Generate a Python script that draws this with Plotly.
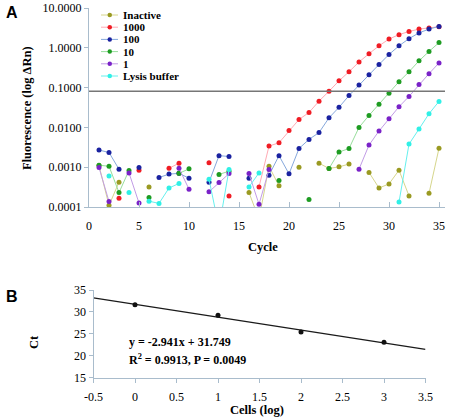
import plotly.graph_objects as go

W, H = 452, 419

# ---------------- Panel A data ----------------
cycles = list(range(1, 36))
series_names = ["Inactive", "1000", "100", "10", "1", "Lysis buffer"]

inactive = [0.0011, 0.00011, 0.00042, None, None, 0.00032, None, None, 0.0007, None,
            None, None, None, None, None, 0.00023, 0.00005, 0.00105, 0.00034, None,
            0.001, None, 0.00126, 0.00093, 0.00102, 0.0012, None, 0.00074, 0.0003, 0.00038,
            0.00084, 0.00019, None, 0.00022, 0.003]
cells_1000 = [None, None, 0.000166, None, 0.00084, None, None, 0.00094, 0.00126, None,
              None, 0.0013, None, 0.00019, None, None, 0.00032, 0.0034, 0.0041, 0.0083,
              0.0158, 0.0237, 0.0457, 0.081, 0.148, 0.25, 0.44, 0.71, 1.12, 1.66,
              2.14, 2.57, 2.95, 3.16, 3.39]
cells_100 = [0.0027, 0.00234, 0.00089, None, 0.00098, None, 0.00055, 0.00067, 0.0007, 0.00053,
             None, 0.00042, 0.00195, 0.00186, None, 0.00053, None, 0.00063, 0.00195, 0.00068,
             0.00295, 0.005, 0.0074, 0.0174, 0.032, 0.063, 0.117, 0.21, 0.38, 0.68,
             1.12, 1.7, 2.37, 2.95, 3.45]
cells_10 = [0.00112, 0.00106, 0.00023, 0.00083, None, 0.000174, None, None, 0.0007, 0.00091,
            None, None, 0.00066, 0.00079, None, None, None, None, 0.00046, None,
            None, 0.000155, None, 0.00093, 0.0024, 0.00295, 0.01, 0.02, 0.038, 0.072,
            0.141, 0.25, 0.47, 0.81, 1.35]
cells_1 = [0.00098, 0.000138, None, 0.00072, 0.000126, None, None, None, 0.00094, 0.00028,
           None, 0.00024, 0.00041, 0.00069, None, 0.00069, 0.000117, 0.00087, None, None,
           None, None, None, None, None, None, 0.00089, 0.0036, 0.0081, 0.0166,
           0.033, 0.06, 0.119, 0.224, 0.417]
lysis_buffer = [None, 0.0006, None, 0.00023, None, 0.00014, 0.000123, 0.0003, 0.00039, None,
                None, 0.0005, 0.00003, 0.00087, None, 0.00032, 0.00072, None, None, None,
                None, None, None, None, None, None, None, None, None, None,
                0.000133, 0.0038, 0.0091, 0.022, 0.045]
series_values = [inactive, cells_1000, cells_100, cells_10, cells_1, lysis_buffer]

threshold = 0.081
a_x_range = [0, 35.6]
a_x_ticks = [0, 5, 10, 15, 20, 25, 30, 35]
a_y_tickvals = [0.0001, 0.001, 0.01, 0.1, 1, 10]
a_y_ticktext = ["0.0001", "0.0010", "0.0100", "0.1000", "1.0000", "10.0000"]

# ---------------- Panel B data ----------------
cells_log = [0, 1, 2, 3]
ct_values = [31.61, 29.22, 25.45, 23.06]
slope, intercept = -2.941, 31.749
fit_x = [-0.5, 3.5]
b_x_ticks = [-0.5, 0, 0.5, 1, 1.5, 2, 2.5, 3, 3.5]
b_x_ticktext = ["-0.5", "0", "0.5", "1", "1.5", "2", "2.5", "3", "3.5"]
b_y_ticks = [15, 20, 25, 30, 35]

# ---------------- styles ----------------
marker_colors = ["#9a9a22", "#f01c24", "#1a22a0", "#1e9c22", "#7a22c8", "#30f0e6"]
line_colors = ["#d6d68c", "#ffaab4", "#86a8dc", "#98de9c", "#c29ce6", "#66f0ee"]
axis_color = "#a9bccc"
serif = "Liberation Serif, Times New Roman, serif"
sans = "Liberation Sans, Arial, sans-serif"


def pxx(p):
    return p / W


def pxy(p):
    return 1 - p / H


fig = go.Figure()

for name, vals, mc, lc in zip(series_names, series_values, marker_colors, line_colors):
    fig.add_trace(go.Scatter(
        x=cycles, y=vals, name=name, mode="lines+markers",
        line=dict(color=lc, width=1), marker=dict(color=mc, size=5),
        connectgaps=False, xaxis="x", yaxis="y", showlegend=False))

fig.add_trace(go.Scatter(
    x=a_x_range, y=[threshold, threshold], mode="lines",
    line=dict(color="#767676", width=1.6), xaxis="x", yaxis="y", showlegend=False))

fit_y = [slope * v + intercept for v in fit_x]
fig.add_trace(go.Scatter(
    x=fit_x, y=fit_y, mode="lines", line=dict(color="#1a1a1a", width=1.2),
    xaxis="x2", yaxis="y2", showlegend=False))
fig.add_trace(go.Scatter(
    x=cells_log, y=ct_values, mode="markers", marker=dict(color="#111111", size=5),
    xaxis="x2", yaxis="y2", showlegend=False))

tickfont = dict(family=serif, size=12, color="black")
common = dict(showgrid=False, zeroline=False, showline=True, linecolor=axis_color,
              linewidth=1, tickcolor=axis_color, tickfont=tickfont, automargin=False)

fig.update_layout(
    template="none",
    width=W, height=H, margin=dict(l=0, r=0, t=0, b=0, pad=0),
    font=dict(family=serif, size=12, color="black"),
    paper_bgcolor="white", plot_bgcolor="white",
    hovermode=False,
    xaxis=dict(domain=[pxx(89), pxx(445)], range=a_x_range, tickvals=a_x_ticks,
               ticks="inside", ticklen=5, anchor="y", ticklabelstandoff=8, **common),
    yaxis=dict(domain=[pxy(207), pxy(8)], type="log", range=[-4, 1],
               tickvals=a_y_tickvals, ticktext=a_y_ticktext,
               ticks="outside", ticklen=4, anchor="x", **common),
    xaxis2=dict(domain=[pxx(93.5), pxx(425.5)], range=[-0.5, 3.5], tickvals=b_x_ticks,
                ticktext=b_x_ticktext, ticks="outside", ticklen=4, anchor="y2",
                ticklabelstandoff=4, **common),
    yaxis2=dict(domain=[pxy(377.7), pxy(290)], range=[15, 35], tickvals=b_y_ticks,
                ticks="outside", ticklen=4, anchor="x2", **common),
)

annotations = []
shapes = []


def text(s, x, y, size=12, family=serif, bold=True, xanchor="center", angle=0):
    annotations.append(dict(
        text=f"<b>{s}</b>" if bold else s, x=pxx(x), y=pxy(y), xref="paper", yref="paper",
        showarrow=False, xanchor=xanchor, yanchor="middle", textangle=angle,
        font=dict(family=family, size=size, color="black")))


text("A", 12, 13, size=16, family=sans)
text("B", 12, 296, size=16, family=sans)
text("Fluorescence (log ΔRn)", 27, 108, size=12.5, angle=-90)
text("Cycle", 263, 247, size=12.5)
text("Ct", 34, 342, size=12.5, angle=-90)
text("Cells (log)", 257, 410, size=12.5)
text("y = -2.941x + 31.749", 127, 342, size=12, xanchor="left")
text("R<sup>2</sup> = 0.9913, P = 0.0049", 127, 359, size=12, xanchor="left")

# legend (panel A)
for i, (name, mc, lc) in enumerate(zip(series_names, marker_colors, line_colors)):
    yy = 15 + 12.2 * i
    shapes.append(dict(type="line", xref="paper", yref="paper",
                       x0=pxx(101), x1=pxx(118), y0=pxy(yy), y1=pxy(yy),
                       line=dict(color=lc, width=1)))
    shapes.append(dict(type="circle", xref="paper", yref="paper",
                       x0=pxx(107.5), x1=pxx(112), y0=pxy(yy + 2.25), y1=pxy(yy - 2.25),
                       fillcolor=mc, line=dict(width=0)))
    text(name, 121, yy, size=11, xanchor="left")

fig.update_layout(annotations=annotations, shapes=shapes)

fig.write_html(
    "out.html",
    config={"displayModeBar": False, "staticPlot": True},
    post_script="document.body.style.margin='0';document.body.style.overflow='hidden';",
)
